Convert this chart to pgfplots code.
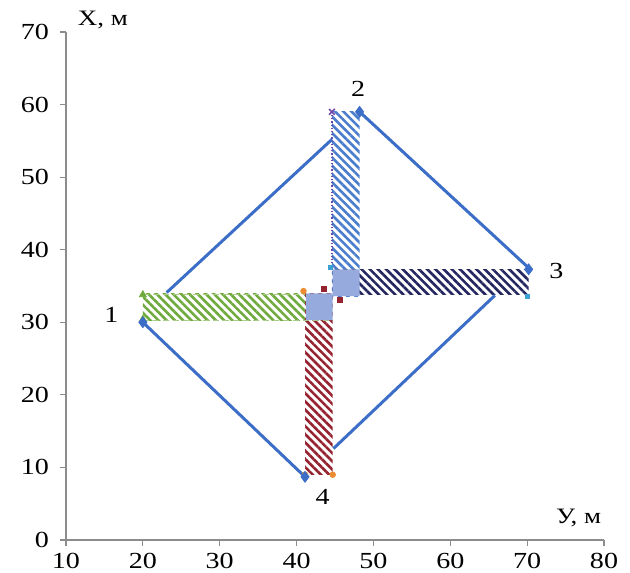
\documentclass[border=0pt]{standalone}
\usepackage{fontspec}
\setmainfont{Liberation Serif}[FakeStretch=1.22]
\usepackage{pgfplots}
\pgfplotsset{compat=1.18}
\usetikzlibrary{patterns.meta}
\definecolor{axisgrey}{RGB}{140,140,140}
\definecolor{lineblue}{RGB}{60,110,200}
\definecolor{hblue}{RGB}{75,125,205}
\definecolor{hnavy}{RGB}{35,38,95}
\definecolor{hgreen}{RGB}{112,170,62}
\definecolor{hred}{RGB}{150,35,48}
\definecolor{sqblue}{RGB}{150,170,222}
\definecolor{mpurple}{RGB}{110,70,170}
\definecolor{morange}{RGB}{235,140,50}
\definecolor{mcyan}{RGB}{60,160,210}
\begin{document}
\begin{tikzpicture}
\useasboundingbox (-33pt,-16pt) rectangle (282pt,270pt);
\begin{axis}[
  scale only axis, width=269pt, height=254pt,
  xmin=10, xmax=80, ymin=0, ymax=70,
  axis x line*=bottom, axis y line*=left,
  xtick={10,20,...,80}, ytick={0,10,...,70},
  tick align=outside, major tick length=3pt,
  tick style={draw=axisgrey, line width=0.6pt},
  axis line style={draw=axisgrey, line width=0.6pt},
  ticklabel style={font=\fontsize{11.5}{13}\selectfont},
  yticklabel style={xshift=-2pt},
  /pgf/number format/assume math mode=true,
  clip=false,
  hatch/.style={draw=none, pattern={Lines[angle=-45,distance=2.9pt,line width=1.3pt]}},
]
% hatched arms
\addplot[hatch, pattern color=hgreen] coordinates {(20,30.2) (44.7,30.2) (44.7,33.9) (20,33.9) (20,30.2)};
\addplot[hatch, pattern color=hred] coordinates {(41.1,9.0) (44.7,9.0) (44.7,34.0) (41.1,34.0) (41.1,9.0)};
\addplot[hatch, pattern color=hblue] coordinates {(44.6,33.6) (48.2,33.6) (48.2,59.0) (44.6,59.0) (44.6,33.6)};
\addplot[hatch, pattern color=hnavy] coordinates {(44.7,33.8) (70.2,33.8) (70.2,37.3) (44.7,37.3) (44.7,33.8)};
% thin dashed edges
\addplot[hgreen!60, densely dashed, line width=0.4pt] coordinates {(20,30.2) (44.7,30.2)};
\addplot[hgreen!60, densely dashed, line width=0.4pt] coordinates {(20,33.9) (41.1,33.9)};
\addplot[mpurple, densely dotted, line width=0.6pt] coordinates {(44.6,59.0) (44.6,37.3)};
% squares
\addplot[fill=sqblue, draw=none] coordinates {(41.2,30.3) (44.7,30.3) (44.7,34.0) (41.2,34.0) (41.2,30.3)};
\addplot[fill=sqblue, draw=none] coordinates {(44.7,33.6) (48.2,33.6) (48.2,37.3) (44.7,37.3) (44.7,33.6)};
% small markers
\addplot[only marks, mark=square*, mark size=1.3pt, hred] coordinates {(43.6,34.6) (45.6,33.1)};
\addplot[only marks, mark=triangle*, mark size=2pt, hgreen] coordinates {(20,33.8) (20,30.4)};
\addplot[only marks, mark=*, mark size=1.4pt, morange] coordinates {(41.1,9.0) (44.7,9.0) (40.9,34.3)};
\addplot[only marks, mark=x, mark size=2pt, mpurple, line width=0.8pt] coordinates {(44.6,59.0)};
\addplot[only marks, mark=square*, mark size=1.1pt, mcyan] coordinates {(44.4,37.6) (70.0,33.6)};
% blue polygon
\addplot[lineblue, line width=1.5pt] coordinates {(20,30) (41.1,8.7)};
\addplot[lineblue, line width=1.5pt] coordinates {(23.1,34.1) (44.6,55.2)};
\addplot[lineblue, line width=1.5pt] coordinates {(48.2,59.0) (70.3,37.4)};
\addplot[lineblue, line width=1.5pt] coordinates {(44.8,12.6) (65.8,33.7)};
\addplot[only marks, mark=diamond*, mark size=2.7pt, lineblue] coordinates {(20,30) (48.2,59.0) (70.2,37.3) (41.1,8.7)};
% labels
\node[font=\fontsize{11.5}{13}\selectfont] at (axis cs:15.9,31.0) {1};
\node[font=\fontsize{11.5}{13}\selectfont] at (axis cs:48.0,62.2) {2};
\node[font=\fontsize{11.5}{13}\selectfont] at (axis cs:73.8,37.0) {3};
\node[font=\fontsize{11.5}{13}\selectfont] at (axis cs:43.4,6.0) {4};
\node[font=\fontsize{11}{13}\selectfont] at (axis cs:14.8,71.6) {Х, м};
\node[font=\fontsize{11}{13}\selectfont] at (axis cs:76.7,3.1) {У, м};
\end{axis}
\end{tikzpicture}
\end{document}
